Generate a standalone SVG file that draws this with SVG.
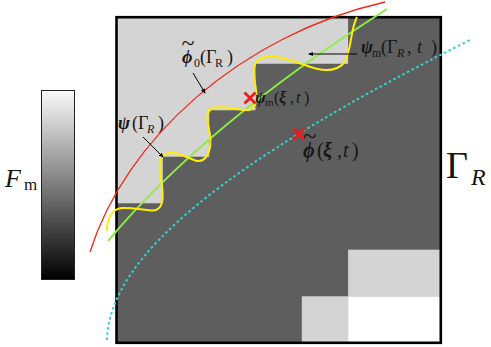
<svg xmlns="http://www.w3.org/2000/svg" width="491" height="347" viewBox="0 0 491 347">
<style>
.t{font-family:"Liberation Serif","DejaVu Serif",serif;fill:#151515}
.bi{font-weight:bold;font-style:italic}
.i{font-style:italic}
.dark{fill:#5e5e5e}
.light{fill:#d4d4d4}
.ptr{stroke:#000;stroke-width:1;fill:none;marker-end:url(#ah)}
.xm{stroke:#ee1a1a;stroke-width:2.8;stroke-linecap:butt}
</style>
<defs>
<linearGradient id="cb" x1="0" y1="0" x2="0" y2="1">
<stop offset="0" stop-color="#fafafa"/>
<stop offset="1" stop-color="#000"/>
</linearGradient>
<marker id="ah" viewBox="0 0 6 6" refX="5" refY="3" markerWidth="5" markerHeight="5" orient="auto" markerUnits="userSpaceOnUse">
<path d="M0,0.5 L6,3 L0,5.5 Z" fill="#000"/>
</marker>
</defs>
<rect width="491" height="347" fill="#fff"/>

<g id="colorbar">
<rect x="41.5" y="90.5" width="33" height="189" fill="url(#cb)" stroke="#222" stroke-width="1"/>
<text class="t" font-size="26"><tspan class="i" x="5" y="187">F</tspan><tspan x="24" y="190" font-size="17">m</tspan></text>
</g>

<g id="grid">
<rect class="dark" x="116.5" y="17.2" width="324.3" height="325.6"/>
<path class="light" d="M116.5,17.2 H348.1 V63.7 H255.5 V110.2 H209.2 V156.7 H162.8 V203.2 H116.5 Z"/>
<rect class="light" x="348.1" y="249.7" width="92.7" height="46.6"/>
<rect class="light" x="301.8" y="296.3" width="46.3" height="46.5"/>
<rect fill="#fff" x="348.1" y="296.3" width="92.7" height="46.5"/>
<rect x="116.5" y="17.2" width="324.3" height="325.6" fill="none" stroke="#000" stroke-width="2.6"/>
</g>

<g id="curves">
<path id="phi0" d="M90,252 C125,140 240,35 385,2" fill="none" stroke="#f0281a" stroke-width="1.3"/>
<path id="phi" d="M107,340 C109,255 230,160 470,40" fill="none" stroke="#2fd6cc" stroke-width="2" stroke-dasharray="2.6,2.6"/>
<path id="psim" d="M108,241 Q205,125 387,9" fill="none" stroke="#8cef40" stroke-width="2"/>
<path id="psi" d="M107,231 C107,218 112,209 122,208 C135,207 148,212 156,210 C164,207 163,195 162,185 C160,172 157,158 165,154 C175,150 187,158 197,161 C207,162 212,150 210,135 C208,122 204,112 213,108 C222,105 240,111 249,110 C258,108 257,95 255,83 C253,72 252,62 262,58 C275,54 290,60 305,65 C320,71 335,73 344,63 C352,50 350,30 357,17" fill="none" stroke="#ffee00" stroke-width="2"/>
</g>

<g id="markers">
<path class="xm" d="M244.5,92.5 L255.5,103.5 M255.5,92.5 L244.5,103.5"/>
<path class="xm" d="M293.5,128.5 L304.5,139.5 M304.5,128.5 L293.5,139.5"/>
</g>

<g id="connectors">
<line class="ptr" x1="193" y1="73" x2="205" y2="93"/>
<line class="ptr" x1="143" y1="137" x2="163" y2="157"/>
<line class="ptr" x1="357" y1="54" x2="309" y2="54"/>
</g>

<g id="label-phi0">
<text class="t" font-size="18"><tspan x="181.5" y="51" font-size="24">~</tspan><tspan class="bi" x="182" y="63">ϕ</tspan><tspan x="194" y="67" font-size="12">0</tspan><tspan x="200" y="63">(Γ</tspan><tspan x="215" y="67" font-size="12">R</tspan><tspan x="227" y="63">)</tspan></text>
</g>
<g id="label-psi">
<text class="t" font-size="18"><tspan class="bi" x="118" y="129">ψ</tspan><tspan x="132" y="129">(Γ</tspan><tspan class="i" x="147" y="133" font-size="12">R</tspan><tspan x="158" y="129">)</tspan></text>
</g>
<g id="label-psim-gamma">
<text class="t" font-size="18"><tspan class="bi" x="361" y="53">ψ</tspan><tspan x="372" y="57" font-size="12">m</tspan><tspan x="381" y="53">(Γ</tspan><tspan class="i" x="397" y="57" font-size="12">R</tspan><tspan x="407" y="53">,</tspan><tspan class="i" x="417" y="53">t</tspan><tspan x="431" y="53">)</tspan></text>
</g>
<g id="label-psim-xi">
<text class="t" font-size="16"><tspan class="bi" x="255" y="103">ψ</tspan><tspan x="265" y="106" font-size="11">m</tspan><tspan x="274" y="103">(</tspan><tspan class="bi" x="279" y="103">ξ</tspan><tspan x="290" y="103">,</tspan><tspan class="i" x="296" y="103">t</tspan><tspan x="304" y="103">)</tspan></text>
</g>
<g id="label-phi">
<text class="t" font-size="20"><tspan x="303" y="144" font-size="25">~</tspan><tspan class="bi" x="303" y="157">ϕ</tspan><tspan x="317" y="157">(</tspan><tspan class="bi" x="323" y="157">ξ</tspan><tspan x="337" y="157">,</tspan><tspan class="i" x="343" y="157">t</tspan><tspan x="352" y="157">)</tspan></text>
</g>
<g id="label-gammaR">
<text class="t" font-size="38"><tspan x="446" y="178">Γ</tspan><tspan class="i" x="471" y="185" font-size="24">R</tspan></text>
</g>
</svg>
